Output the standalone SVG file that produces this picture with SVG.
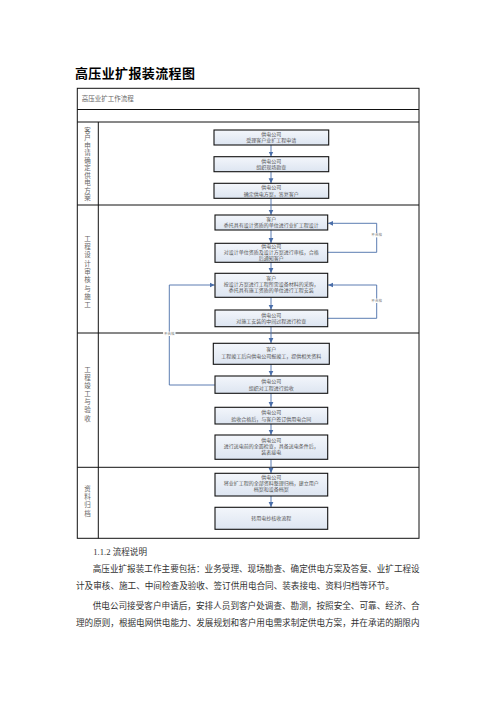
<svg xmlns="http://www.w3.org/2000/svg" width="496" height="702" viewBox="0 0 496 702">
<defs>
<linearGradient id="bf" x1="0" y1="0" x2="0" y2="1">
<stop offset="0" stop-color="#f3f6fb"/>
<stop offset="1" stop-color="#dde5f1"/>
</linearGradient>
<marker id="ah" markerWidth="6" markerHeight="6" refX="5" refY="3" orient="auto" markerUnits="userSpaceOnUse">
<path d="M0,0.6 L5,3 L0,5.4 Z" fill="#4a6ea9"/>
</marker>
<style>
.box{fill:url(#bf);stroke:#111;stroke-width:1.1}
.bt{font-family:"Noto Sans CJK SC","Liberation Sans",sans-serif;font-size:5px;fill:#555;text-anchor:middle}
.lane{font-family:"Noto Sans CJK SC","Liberation Sans",sans-serif;font-size:6.5px;fill:#666;writing-mode:tb}
.grid{fill:none;stroke:#111;stroke-width:1}
.con{fill:none;stroke:#4a6ea9;stroke-width:0.9}
.ng{font-family:"Noto Sans CJK SC","Liberation Sans",sans-serif;font-size:3.6px;fill:#777;text-anchor:middle}
.body{font-family:"Liberation Serif","Noto Sans CJK SC",serif;font-size:8.6px;fill:#333}
</style>
</defs>
<rect width="496" height="702" fill="#fff"/>
<text x="75" y="77.5" font-family="'Noto Sans CJK SC','Liberation Sans',sans-serif" font-size="13" font-weight="bold" fill="#000" textLength="120" lengthAdjust="spacing">高压业扩报装流程图</text>

<g id="table">
<rect class="grid" x="77.3" y="88.3" width="341.7" height="450"/>
<line class="grid" x1="77.3" y1="109.5" x2="419" y2="109.5"/>
<line class="grid" x1="77.3" y1="122" x2="419" y2="122"/>
<line class="grid" x1="77.3" y1="205" x2="419" y2="205"/>
<line class="grid" x1="77.3" y1="333" x2="419" y2="333"/>
<line class="grid" x1="77.3" y1="467.3" x2="419" y2="467.3"/>
<line class="grid" x1="98.3" y1="122" x2="98.3" y2="538.3"/>
<text x="81.7" y="101" font-family="'Noto Sans CJK SC','Liberation Sans',sans-serif" font-size="6.5" fill="#666">高压业扩工作流程</text>
</g>

<g id="lanes">
<text class="lane" x="87.5" y="127" font-size="6" letter-spacing="1">客户申请确定供电方案</text>
<text class="lane" x="87.5" y="235" letter-spacing="1.8">工程设计审核与施工</text>
<text class="lane" x="87.5" y="365.8" letter-spacing="1.67">工程竣工与验收</text>
<text class="lane" x="87.5" y="484.8" letter-spacing="1.83">资料归档</text>
</g>

<g id="connectors">
<line class="con" x1="271" y1="145" x2="271" y2="156.5" marker-end="url(#ah)"/>
<line class="con" x1="271" y1="171.7" x2="271" y2="183.2" marker-end="url(#ah)"/>
<line class="con" x1="271" y1="198.3" x2="271" y2="214.8" marker-end="url(#ah)"/>
<line class="con" x1="271" y1="230" x2="271" y2="243.1" marker-end="url(#ah)"/>
<line class="con" x1="271" y1="262.3" x2="271" y2="273.1" marker-end="url(#ah)"/>
<line class="con" x1="271" y1="297.3" x2="271" y2="309.8" marker-end="url(#ah)"/>
<line class="con" x1="271" y1="326.7" x2="271" y2="343.1" marker-end="url(#ah)"/>
<line class="con" x1="271" y1="364.3" x2="271" y2="375.8" marker-end="url(#ah)"/>
<line class="con" x1="271" y1="393.3" x2="271" y2="407.1" marker-end="url(#ah)"/>
<line class="con" x1="271" y1="424" x2="271" y2="434.8" marker-end="url(#ah)"/>
<line class="con" x1="271" y1="459.3" x2="271" y2="473.1" marker-end="url(#ah)"/>
<line class="con" x1="271" y1="496" x2="271" y2="507.1" marker-end="url(#ah)"/>
<polyline class="con" points="327.9,252.3 376.7,252.3 376.7,223.3 328.1,223.3" marker-end="url(#ah)"/>
<polyline class="con" points="327.9,318.3 376.7,318.3 376.7,285 328.1,285" marker-end="url(#ah)"/>
<polyline class="con" points="214.8,385 169.3,385 169.3,285 214.6,285" marker-end="url(#ah)"/>
<rect x="370.5" y="233" width="12.4" height="4.4" fill="#fff"/>
<text class="ng" x="376.7" y="236.4">不合格</text>
<rect x="370.5" y="298.6" width="12.4" height="4.4" fill="#fff"/>
<text class="ng" x="376.7" y="302">不合格</text>
<rect x="163.1" y="331.6" width="12.4" height="4.4" fill="#fff"/>
<text class="ng" x="169.3" y="335">不合格</text>
</g>

<g id="n1"><rect class="box" x="214" y="130" width="114.7" height="15"/><text class="bt"><tspan x="271.3" y="136">供电公司</tspan><tspan x="271.3" y="142.3">受理客户业扩工程申请</tspan></text></g>
<g id="n2"><rect class="box" x="214" y="156.7" width="114.7" height="15"/><text class="bt"><tspan x="271.3" y="162.7">供电公司</tspan><tspan x="271.3" y="169">组织现场勘查</tspan></text></g>
<g id="n3"><rect class="box" x="214" y="183.3" width="114.7" height="15"/><text class="bt"><tspan x="271.3" y="189.3">供电公司</tspan><tspan x="271.3" y="195.6">确定供电方案，答复客户</tspan></text></g>
<g id="n4"><rect class="box" x="215" y="215" width="112.7" height="15"/><text class="bt"><tspan x="271.3" y="220.8">客户</tspan><tspan x="271.3" y="227.1">委托具有设计资质的单位进行业扩工程设计</tspan></text></g>
<g id="n5"><rect class="box" x="215" y="243.3" width="112.7" height="19"/><text class="bt"><tspan x="271.3" y="248.3">供电公司</tspan><tspan x="271.3" y="253.8">对设计单位资质及设计方案进行审核，合格</tspan><tspan x="271.3" y="259.5">后通知客户</tspan></text></g>
<g id="n6"><rect class="box" x="215" y="273.3" width="112.7" height="24"/><text class="bt"><tspan x="271.3" y="279.5">客户</tspan><tspan x="271.3" y="286">按设计方案进行工程所需设备材料的采购，</tspan><tspan x="271.3" y="292">委托具有施工资质的单位进行工程安装</tspan></text></g>
<g id="n7"><rect class="box" x="215" y="310" width="112.7" height="16.7"/><text class="bt"><tspan x="271.3" y="316.8">供电公司</tspan><tspan x="271.3" y="323.2">对施工安装的中间过程进行检查</tspan></text></g>
<g id="n8"><rect class="box" x="213.3" y="343.3" width="116" height="21"/><text class="bt"><tspan x="271.3" y="350.8">客户</tspan><tspan x="271.3" y="357.5">工程竣工后向供电公司报竣工，提供相关资料</tspan></text></g>
<g id="n9"><rect class="box" x="215" y="376" width="112.7" height="17.3"/><text class="bt"><tspan x="271.3" y="382.8">供电公司</tspan><tspan x="271.3" y="389.5">组织对工程进行验收</tspan></text></g>
<g id="n10"><rect class="box" x="215" y="407.3" width="112.7" height="16.7"/><text class="bt"><tspan x="271.3" y="414">供电公司</tspan><tspan x="271.3" y="420.5">验收合格后，与客户签订供用电合同</tspan></text></g>
<g id="n11"><rect class="box" x="215" y="435" width="112.7" height="24.3"/><text class="bt"><tspan x="271.3" y="441.8">供电公司</tspan><tspan x="271.3" y="448">进行送电前的全面检查，具备送电条件后，</tspan><tspan x="271.3" y="454">装表接电</tspan></text></g>
<g id="n12"><rect class="box" x="215" y="473.3" width="112.7" height="22.7"/><text class="bt"><tspan x="271.3" y="479.3">供电公司</tspan><tspan x="271.3" y="485.3">将业扩工程的全部资料整理归档，建立用户</tspan><tspan x="271.3" y="491.3">档案和设备档案</tspan></text></g>
<g id="n13"><rect class="box" x="215" y="507.3" width="112.7" height="22"/><text class="bt" x="271.3" y="520">转用电抄核收流程</text></g>

<g id="body">
<text class="body" x="93.3" y="554.5">1.1.2  流程说明</text>
<text class="body" x="92.7" y="572.3" textLength="327" lengthAdjust="spacing">高压业扩报装工作主要包括：业务受理、现场勘查、确定供电方案及答复、业扩工程设</text>
<text class="body" x="76" y="589">计及审核、施工、中间检查及验收、签订供用电合同、装表接电、资料归档等环节。</text>
<text class="body" x="92.7" y="609" textLength="327" lengthAdjust="spacing">供电公司接受客户申请后，安排人员到客户处调查、勘测，按照安全、可靠、经济、合</text>
<text class="body" x="76" y="625.7" textLength="343.5" lengthAdjust="spacing">理的原则，根据电网供电能力、发展规划和客户用电需求制定供电方案，并在承诺的期限内</text>
</g>
</svg>
